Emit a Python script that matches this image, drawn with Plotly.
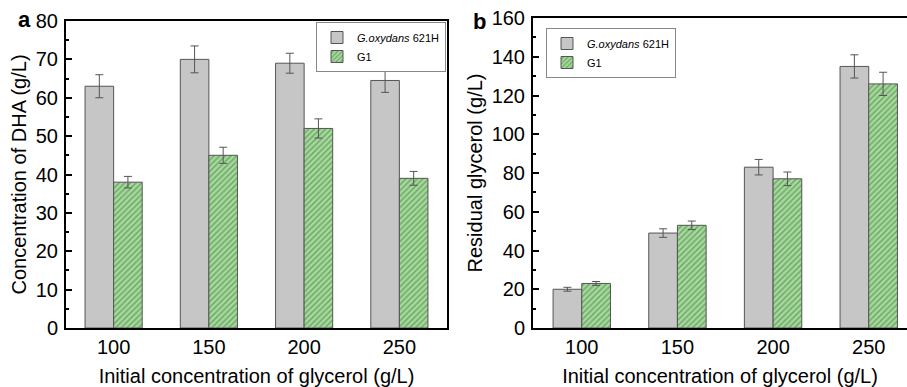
import plotly.graph_objects as go

categories = ["100", "150", "200", "250"]
series_names = ["<i>G.oxydans</i> 621H", "G1"]

# Panel a: concentration of DHA (g/L)
dha_wt = [63, 70, 69, 64.5]
dha_wt_err = [3.0, 3.5, 2.6, 3.1]
dha_g1 = [38, 45, 52, 39]
dha_g1_err = [1.5, 2.1, 2.5, 1.8]

# Panel b: residual glycerol (g/L)
gly_wt = [20, 49, 83, 135]
gly_wt_err = [1.0, 2.2, 4.0, 6.0]
gly_g1 = [23, 53, 77, 126]
gly_g1_err = [1.0, 2.2, 3.5, 6.0]

W, H = 907, 387
FONT = "Liberation Sans, Arial, sans-serif"

gray_fill = "#c6c6c6"
edge = "#555555"
pat = dict(shape="/", fgcolor="#2f6e2f", bgcolor="#a6d99c", size=4, solidity=0.35)

fig = go.Figure()

def add_pair(wt, wt_err, g1, g1_err, xa, ya, leg):
    fig.add_trace(go.Bar(
        x=categories, y=wt, name=series_names[0], xaxis=xa, yaxis=ya, legend=leg,
        marker=dict(color=gray_fill, line=dict(color=edge, width=1)),
        error_y=dict(type="data", array=wt_err, color="#555555", thickness=1, width=4),
    ))
    fig.add_trace(go.Bar(
        x=categories, y=g1, name=series_names[1], xaxis=xa, yaxis=ya, legend=leg,
        marker=dict(color="#a6d99c", pattern=pat, line=dict(color=edge, width=1)),
        error_y=dict(type="data", array=g1_err, color="#555555", thickness=1, width=4),
    ))

add_pair(dha_wt, dha_wt_err, dha_g1, dha_g1_err, "x", "y", "legend")
add_pair(gly_wt, gly_wt_err, gly_g1, gly_g1_err, "x2", "y2", "legend2")

ydom_bot = (H - 328) / H

axis_common = dict(showline=True, linecolor="black", linewidth=2,
                   showgrid=False, zeroline=False, automargin=False,
                   tickfont=dict(family=FONT, size=20, color="black"),
                   title_font=dict(family=FONT, size=20, color="black"))

xcommon = dict(axis_common, type="category", ticks="",
               title_text="Initial concentration of glycerol (g/L)",
               title_standoff=13, ticklabelstandoff=0)
ycommon = dict(axis_common, ticks="inside", ticklen=6, tickwidth=1.5, tickcolor="black",
               ticklabelstandoff=2,
               minor=dict(ticks="inside", ticklen=3, tickwidth=1.5, tickcolor="black"))

leg_common = dict(xanchor="left", yanchor="top", xref="paper", yref="paper",
                  bgcolor="white", bordercolor="#888888", borderwidth=1,
                  font=dict(family=FONT, size=11, color="black"),
                  tracegroupgap=0, itemwidth=30)

fig.update_layout(
    width=W, height=H,
    margin=dict(l=0, r=0, t=0, b=0, autoexpand=False),
    paper_bgcolor="white", plot_bgcolor="white",
    barmode="group", bargap=0.4, bargroupgap=0,
    font=dict(family=FONT, color="black"),
    xaxis=dict(xcommon, domain=[66 / W, 447 / W], range=[-0.5, 3.5], mirror=True, anchor="y"),
    yaxis=dict(ycommon, domain=[ydom_bot, (H - 21) / H], range=[0, 80], dtick=10,
               mirror=True, anchor="x",
               minor=dict(ycommon["minor"], dtick=5),
               title_text="Concentration of DHA (g/L)", title_standoff=4),
    xaxis2=dict(xcommon, domain=[533 / W, 1.0], range=[-0.51, 3.40], mirror=True, anchor="y2"),
    yaxis2=dict(ycommon, domain=[ydom_bot, (H - 18) / H], range=[0, 160], dtick=20,
                mirror=False, anchor="x2",
                minor=dict(ycommon["minor"], dtick=10),
                title_text="Residual glycerol (g/L)", title_standoff=4),
    legend=dict(leg_common, x=316 / W, y=(H - 22) / H),
    legend2=dict(leg_common, x=546 / W, y=(H - 28) / H),
    annotations=[
        dict(text="<b>a</b>", x=16 / W, y=(H - 19) / H, xref="paper", yref="paper",
             xanchor="left", yanchor="middle", showarrow=False,
             font=dict(family=FONT, size=22, color="black")),
        dict(text="<b>b</b>", x=471 / W, y=(H - 22) / H, xref="paper", yref="paper",
             xanchor="left", yanchor="middle", showarrow=False,
             font=dict(family=FONT, size=22, color="black")),
    ],
)

fig.write_html("out.html")
